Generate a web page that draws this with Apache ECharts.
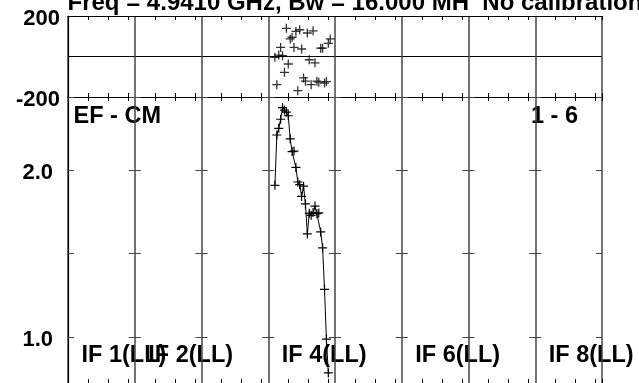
<!DOCTYPE html>
<html><head><meta charset="utf-8">
<script src="https://cdn.jsdelivr.net/npm/echarts@6/dist/echarts.min.js"></script>
<style>html,body{margin:0;padding:0;background:#fff}#c{width:639px;height:383px}</style>
</head><body><div id="c"></div>
<script>
// ---- data ----
const titleText = 'Freq = 4.9410 GHz, Bw = 16.000 MH  No calibration';
const baselineText = 'EF - CM';
const sourceText = '1 - 6';
const ifNames = ['IF 1(LL)', 'IF 2(LL)', 'IF 4(LL)', 'IF 6(LL)', 'IF 8(LL)'];
const ifLabelIndex = [1, 2, 4, 6, 8];
const nIF = 8;
const chanPerIF = 35;
const dataIF = 4;
const firstChan = 4;
const phase = [-4, -139, 7, 45, 4, -78, 139, -37, 87, 95, 45, 124, -169, 132, 37, -106, -122, 116, -16, -139, 127, -31, -122, -127, 41, 41, -131, -124, 65, 87];
const amp = [1.907, 2.208, 2.248, 2.302, 2.372, 2.357, 2.345, 2.323, 2.185, 2.109, 2.112, 2.014, 1.927, 1.911, 1.841, 1.902, 1.796, 1.617, 1.740, 1.728, 1.745, 1.783, 1.738, 1.742, 1.629, 1.534, 1.286, 0.988, 0.786];
const phaseRange = [-200, 200];
const phaseStep = 200;
const ampRange = [0.726, 2.435];
const ampLabels = ['1.0', '2.0'];

// ---- build ----
const FONT = "'Liberation Sans', Arial, sans-serif";
const nCh = nIF * chanPerIF;
const chanCats = Array.from({length: nCh}, (_, i) => String(i + 1));
const subCats = Array.from({length: nIF * 10}, (_, i) => String(i));
const phaseFull = new Array(nCh).fill(null);
const ampFull = new Array(nCh).fill(null);
const off = (dataIF - 1) * chanPerIF + firstChan - 1;
phase.forEach((v, i) => phaseFull[off + i] = v);
amp.forEach((v, i) => ampFull[off + i] = v);

const G_LEFT = 68, G_RIGHT = 37, W = 639 - G_LEFT - G_RIGHT, IFW = W / nIF;
const black = '#000', grayLine = '#444';
const cross = 'path://M0,5L10,5M5,0L5,10';
const tickFn = (i) => { const r = i % 10; return r === 3 || r === 6 || r === 9; };
const labRich = {p: {fontFamily: FONT, fontWeight: 'bold', fontSize: 22, color: black, padding: [6, 0, 0, 0]}};

const xAxes = [];
const yAxes = [];
for (let g = 0; g < 2; g++) {
  xAxes.push({type: 'category', gridIndex: g, data: chanCats, show: false, boundaryGap: true});
  xAxes.push({type: 'value', gridIndex: g, min: 0, max: nIF, interval: 1, position: 'bottom',
    axisLine: {show: false, onZero: false}, axisTick: {show: false}, axisLabel: {show: false},
    splitLine: {show: true, lineStyle: {color: grayLine, width: 1.5}}});
  ['top', 'bottom'].forEach(pos => {
    xAxes.push({type: 'category', gridIndex: g, data: subCats, position: pos, boundaryGap: true,
      axisLine: {show: true, onZero: false, lineStyle: {color: black, width: 1}},
      axisTick: {show: true, inside: true, length: 4, interval: tickFn, lineStyle: {color: black}},
      axisLabel: {show: false}, splitLine: {show: false}});
  });
}
// phase axis
yAxes.push({type: 'value', gridIndex: 0, min: phaseRange[0], max: phaseRange[1], interval: phaseStep, position: 'left',
  axisLine: {show: true, onZero: false, lineStyle: {color: black, width: 1.2}},
  axisTick: {show: false},
  axisLabel: {show: true, margin: 8, rich: labRich, formatter: v => (v === 0 ? '' : `{p|${v}}`)},
  splitLine: {show: true, lineStyle: {color: black, width: 1}}});
// amplitude axis
yAxes.push({type: 'value', gridIndex: 1, min: ampRange[0], max: ampRange[1], splitNumber: 3, position: 'left',
  axisLine: {show: true, onZero: false, lineStyle: {color: black, width: 1.2}},
  axisTick: {show: true, inside: true, length: 6, lineStyle: {color: grayLine}},
  axisLabel: {show: true, margin: 15, rich: labRich,
    formatter: v => { for (const s of ampLabels) if (Math.abs(v - parseFloat(s)) < 1e-6) return `{p|${s}}`; return ''; }},
  splitLine: {show: false}});
// tick marks on the IF separators
for (let k = 1; k <= nIF; k++) {
  const last = k === nIF;
  yAxes.push({type: 'value', gridIndex: 1, min: ampRange[0], max: ampRange[1], splitNumber: 3, position: 'left',
    offset: -(k * IFW + (last ? 0 : 6)),
    axisLine: {show: false, onZero: false}, axisLabel: {show: false}, splitLine: {show: false},
    axisTick: {show: true, inside: false, length: last ? 6 : 12, lineStyle: {color: grayLine}}});
}

const graphics = [
  {type: 'text', x: G_LEFT - 0.5, y: 3.4, style: {text: titleText, font: `bold 24px ${FONT}`, fill: black, verticalAlign: 'middle'}},
  {type: 'text', x: 73.5, y: 117, style: {text: baselineText, font: `bold 23.5px ${FONT}`, fill: black, verticalAlign: 'middle'}},
  {type: 'text', x: 531, y: 117, style: {text: sourceText, font: `bold 23.5px ${FONT}`, fill: black, verticalAlign: 'middle'}}
];
ifNames.forEach((t, i) => {
  graphics.push({type: 'text', x: G_LEFT + (ifLabelIndex[i] - 1) * IFW + 13.5, y: 356,
    style: {text: t, font: `bold 23.5px ${FONT}`, fill: black, verticalAlign: 'middle'}});
});

const chart = echarts.init(document.getElementById('c'), null, {renderer: 'canvas'});
chart.setOption({
  animation: false,
  backgroundColor: '#fff',
  grid: [
    {left: G_LEFT, right: G_RIGHT, top: 16, height: 81},
    {left: G_LEFT, right: G_RIGHT, top: 97, height: 287}
  ],
  xAxis: xAxes,
  yAxis: yAxes,
  series: [
    {type: 'scatter', xAxisIndex: 0, yAxisIndex: 0, data: phaseFull, symbol: cross, symbolSize: 9,
      itemStyle: {color: black, borderColor: black, borderWidth: 1.3}},
    {type: 'line', xAxisIndex: 4, yAxisIndex: 1, data: ampFull, symbol: cross, symbolSize: 9, showSymbol: true,
      showAllSymbol: true, connectNulls: false, lineStyle: {color: black, width: 1},
      itemStyle: {color: black, borderColor: black, borderWidth: 1.2}}
  ],
  graphic: graphics
});
</script></body></html>
